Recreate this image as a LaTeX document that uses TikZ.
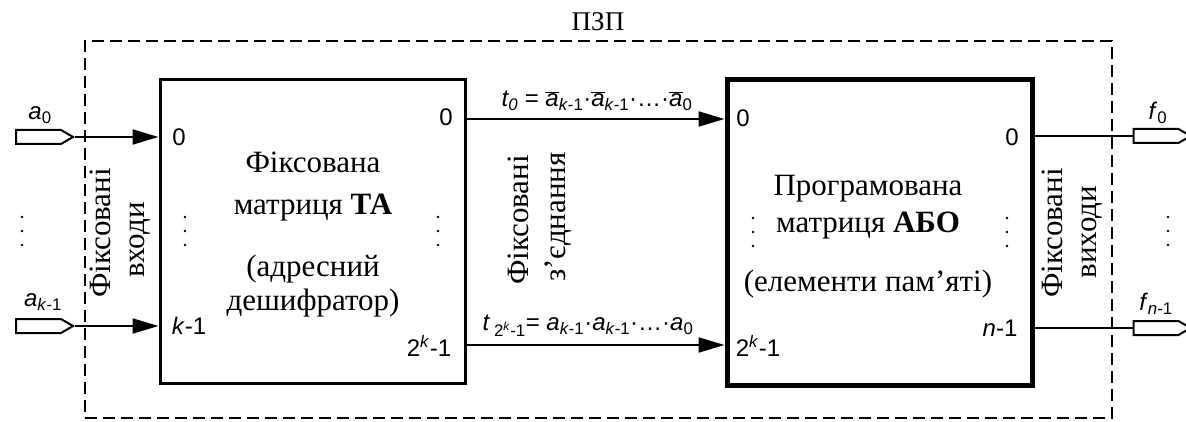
\documentclass[tikz,border=0pt]{standalone}
\usepackage{fontspec}
\setmainfont{Liberation Serif}
\setsansfont{Liberation Sans}
\usetikzlibrary{positioning,shapes.symbols,arrows.meta}

\newcommand{\idx}[1]{\textsubscript{#1}}
\newcommand{\ovl}[1]{$\overline{\mbox{\textit{#1}}}$}
\newcommand{\threedots}[2]{\foreach \dy in {0,14,28} \fill (#1,#2+\dy) circle (1.4pt);}
\newcommand{\serifsize}[1]{\fontsize{31}{#1}\selectfont}

\begin{document}
\begin{tikzpicture}[x=1pt,y=-1pt,
    matrixbox/.style={draw, line width=3pt, minimum width=305pt, minimum height=303pt, inner sep=0pt},
    pin/.style={signal, signal to=east, signal pointer angle=60, draw, line width=2pt,
      minimum width=57pt, minimum height=14pt, inner sep=0pt},
    wire/.style={line width=2pt, -{Triangle[length=26pt,width=15pt]}},
    portlbl/.style={font=\sffamily\fontsize{24}{24}\selectfont, inner sep=0pt},
    boxtext/.style={font=\serifsize{40}, align=center, inner sep=0pt},
    sidetext/.style={font=\serifsize{31}, rotate=90, inner sep=0pt}]
  \useasboundingbox (0,0) rectangle (1186,422);
  % ROM frame
  \node[draw, dash pattern=on 12pt off 6pt, line width=2pt, minimum width=1027pt,
    minimum height=377pt, inner sep=0pt] (rom) at (598.5,229.5) {};
  \node[font=\fontsize{27}{27}\selectfont, inner sep=0pt] (romlbl) at (598,22) {ПЗП};
  % matrices
  \node[matrixbox] (ta) at (312.5,231.5) {};
  \node[matrixbox, line width=5pt, minimum height=305pt] (abo) at (879.5,232.5) {};
  \node[boxtext, font=\serifsize{42}] (tatitle) at (313,186.5) {Фіксована\\матриця \textbf{ТА}};
  \node[boxtext, font=\serifsize{34}] (tanote) at (313,286.5) {(адресний\\дешифратор)};
  \node[boxtext, font=\serifsize{37}] (abotitle) at (868,207) {Програмована\\матриця \textbf{АБО}};
  \node[boxtext] (abonote) at (868,284) {(елементи пам’яті)};
  % inputs
  \node[pin] (a0) at (38.5,137) {};
  \node[pin] (ak) at (38.5,326) {};
  \draw[wire] (a0.east) -- (a0.east -| ta.west);
  \draw[wire] (ak.east) -- (ak.east -| ta.west);
  \node[portlbl] (a0lbl) at (40,115) {\textit{a}\idx{0}};
  \node[portlbl] (aklbl) at (43,302) {\textit{a}\idx{\textit{k}-1}};
  \node[sidetext] (inlbl1) at (100,233) {Фіксовані};
  \node[sidetext] (inlbl2) at (140,240) {входи};
  % decoder ports
  \node[portlbl] (ta0) at (179,137) {0};
  \node[portlbl] (tak) at (189,326) {\textit{k}-1};
  \node[portlbl] (tao0) at (446,117) {0};
  \node[portlbl] (taok) at (429,346) {2\textsuperscript{\textit{k}}-1};
  % fixed links
  \draw[wire] (ta.east |- 0,119) -- (abo.west |- 0,119);
  \draw[wire] (ta.east |- 0,345) -- (abo.west |- 0,345);
  \node[portlbl] (tzero) at (597,101) {\textit{t\idx{0}} = \ovl{a}\idx{\textit{k}-1}·\ovl{a}\idx{\textit{k}-1}·…·\ovl{a}\idx{0}};
  \node[portlbl] (tlast) at (588,326) {\textit{t}\,\idx{2\textsuperscript{\textit{k}}-1}= \textit{a}\idx{\textit{k}-1}·\textit{a}\idx{\textit{k}-1}·…·\textit{a}\idx{0}};
  \node[sidetext] (midlbl1) at (518,220) {Фіксовані};
  \node[sidetext] (midlbl2) at (558,217) {з’єднання};
  % memory ports
  \node[portlbl] (abo0) at (743,118) {0};
  \node[portlbl] (abok) at (758,346) {2\textsuperscript{\textit{k}}-1};
  \node[portlbl] (aboo0) at (1012,137) {0};
  \node[portlbl] (abon) at (1000,328) {\textit{n}-1};
  % outputs
  \node[pin] (f0) at (1156,136) {};
  \node[pin] (fn) at (1156,328) {};
  \draw[line width=2pt] (abo.east |- f0.west) -- (f0.west);
  \draw[line width=2pt] (abo.east |- fn.west) -- (fn.west);
  \node[portlbl] (f0lbl) at (1158,113) {\textit{f}\idx{0}};
  \node[portlbl] (fnlbl) at (1156,304) {\textit{f}\idx{\textit{n}-1}};
  \node[sidetext] (outlbl1) at (1052,233) {Фіксовані};
  \node[sidetext] (outlbl2) at (1092,232) {виходи};
  % dots
  \threedots{22}{217}
  \threedots{185}{217}
  \threedots{438}{217}
  \threedots{753}{218}
  \threedots{1007}{218}
  \threedots{1168}{217}
\end{tikzpicture}
\end{document}
